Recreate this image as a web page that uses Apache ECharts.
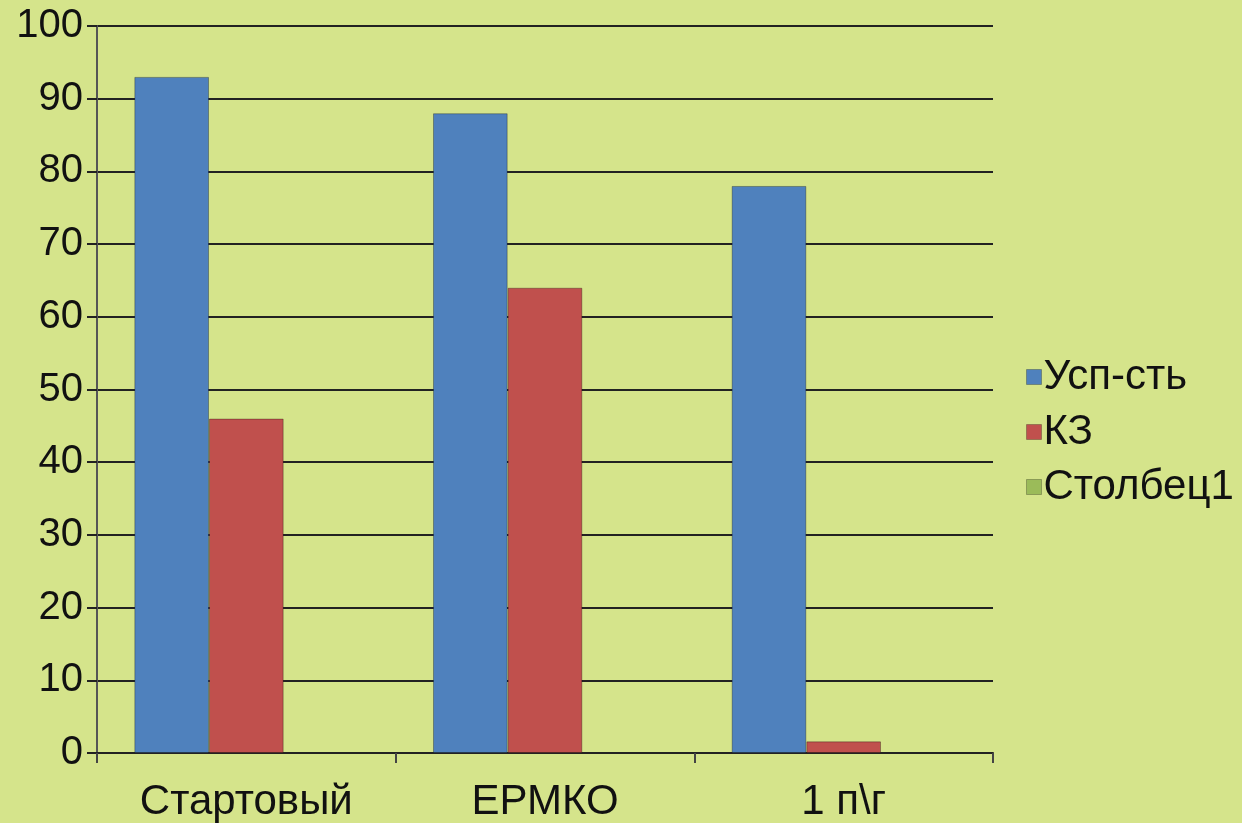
<!DOCTYPE html>
<html>
<head>
<meta charset="utf-8">
<script src="https://cdn.jsdelivr.net/npm/echarts@6/dist/echarts.min.js"></script>
<style>
html,body{margin:0;padding:0;background:#d5e48b;}
#chart{width:1242px;height:823px;}
</style>
</head>
<body>
<div id="chart"></div>
<script>
const categories = ['Стартовый', 'ЕРМКО', '1 п\\г'];
const seriesNames = ['Усп-сть', 'КЗ', 'Столбец1'];
const uspValues = [93, 88, 78];
const kzValues = [46, 64, 1.6];
const stolbecValues = [null, null, null];
const yTicks = [0, 10, 20, 30, 40, 50, 60, 70, 80, 90, 100];

const colors = ['#4f81bd', '#c0504d', '#9bbb59'];
const font = '"Liberation Sans", "DejaVu Sans", sans-serif';

const chart = echarts.init(document.getElementById('chart'));
const barStyle = c => ({ color: c, borderColor: 'rgba(0,0,0,0.3)', borderWidth: 1 });

chart.setOption({
  backgroundColor: '#d5e48b',
  animation: false,
  color: colors,
  grid: { left: 97, right: 249, top: 26, bottom: 69, containLabel: false },
  legend: {
    orient: 'vertical',
    left: 1021,
    top: 351,
    itemWidth: 15,
    itemHeight: 15,
    itemGap: 13,
    icon: 'rect',
    data: seriesNames,
    textStyle: { fontSize: 42, fontFamily: font, color: '#111', padding: [0, 0, 0, -3] },
    itemStyle: { borderColor: 'rgba(0,0,0,0.25)', borderWidth: 1 }
  },
  xAxis: {
    type: 'category',
    data: categories,
    boundaryGap: true,
    axisLine: { show: true, lineStyle: { color: '#222', width: 2 } },
    axisTick: { show: true, length: 10, lineStyle: { color: '#444', width: 2 } },
    axisLabel: { fontSize: 42, fontFamily: font, color: '#111', margin: 28 }
  },
  yAxis: {
    type: 'value',
    min: 0,
    max: 100,
    interval: 10,
    axisLine: { show: true, lineStyle: { color: '#555', width: 2 } },
    axisTick: { show: true, length: 10, lineStyle: { color: '#222', width: 2 } },
    axisLabel: { fontSize: 40, fontFamily: font, color: '#111', margin: 14,
      padding: [9, 0, 0, 0],
      formatter: v => yTicks.includes(v) ? String(v) : '' },
    splitLine: { show: true, lineStyle: { color: '#222', width: 2 } }
  },
  series: [
    { name: seriesNames[0], type: 'bar', data: uspValues, barGap: '0%', barCategoryGap: '25%', itemStyle: barStyle(colors[0]) },
    { name: seriesNames[1], type: 'bar', data: kzValues, barGap: '0%', barCategoryGap: '25%', itemStyle: barStyle(colors[1]) },
    { name: seriesNames[2], type: 'bar', data: stolbecValues, barGap: '0%', barCategoryGap: '25%', itemStyle: barStyle(colors[2]) }
  ]
});
</script>
</body>
</html>
